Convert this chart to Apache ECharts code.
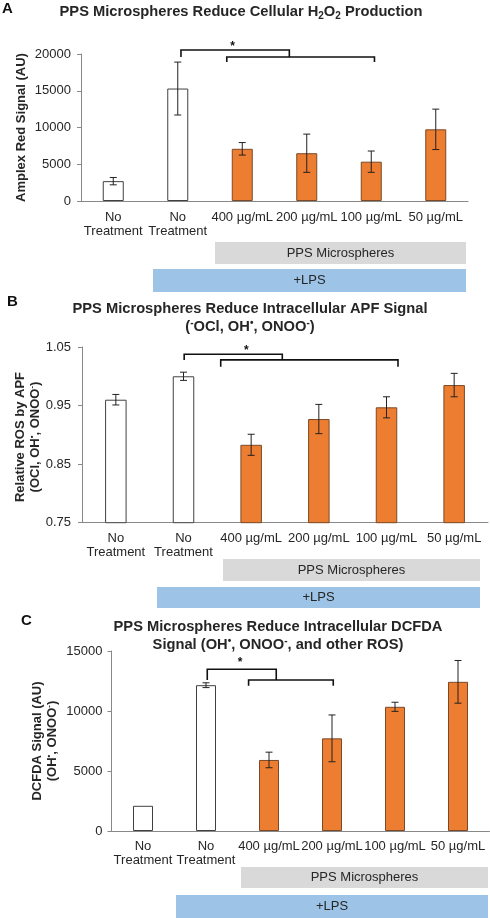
<!DOCTYPE html>
<html><head><meta charset="utf-8">
<script src="https://cdn.jsdelivr.net/npm/echarts@6/dist/echarts.min.js"></script>
<style>html,body{margin:0;padding:0;background:#fff}#c{width:490px;height:918px}</style>
</head><body><div id="c"></div>
<script>
const categories = ['No\nTreatment', 'No\nTreatment', '400 µg/mL', '200 µg/mL', '100 µg/mL', '50 µg/mL'];
const isTreated = [false, false, true, true, true, true];

const amplexMean = [2700, 15300, 7100, 6500, 5350, 9750];
const amplexErr  = [500, 3600, 850, 2600, 1450, 2750];
const amplexTicks = [0, 5000, 10000, 15000, 20000];

const apfMean = [0.960, 1.000, 0.883, 0.927, 0.947, 0.985];
const apfErr  = [0.009, 0.007, 0.018, 0.025, 0.018, 0.020];
const apfTicks = [0.75, 0.85, 0.95, 1.05];

const dcfdaMean = [2100, 12150, 5920, 7720, 10350, 12430];
const dcfdaErr  = [0, 200, 650, 1950, 380, 1780];
const dcfdaTicks = [0, 5000, 10000, 15000];

// significance brackets: [fromCategory, toCategory, topValue, legBottomValue]
const bracketsA = [[1.05, 2.73, 20544, 19590], [1.76, 4.05, 19590, 18910]];
const starA = [1.85, 21000];
const bracketsB = [[1.01, 2.46, 1.0375, 1.028], [1.55, 4.17, 1.028, 1.0164]];
const starB = [1.93, 1.044];
const bracketsC = [[1.02, 2.115, 13475, 12583], [1.676, 3.02, 12583, 12108]];
const starC = [1.54, 14000];

const FONT = 'Liberation Sans, Arial, sans-serif';
const TXT = '#262626';
const ORANGE = '#ED7D31';

const grids = [
  {left: 81, right: 22, top: 54, height: 147},
  {left: 82, right: 2, top: 347, height: 175.7},
  {left: 111.5, right: 0.5, top: 651, height: 180}
];
const barWidths = [21, 21.5, 20];
const yLabelMargins = [10, 11, 9];

function makeYAxis(gi, ticks, fmt) {
  return {
    type: 'value', gridIndex: gi,
    min: ticks[0], max: ticks[ticks.length - 1], interval: ticks[1] - ticks[0],
    axisLine: {show: true, lineStyle: {color: '#888', width: 1}},
    axisTick: {show: true, length: 4, lineStyle: {color: '#888'}},
    splitLine: {show: false},
    axisLabel: {fontFamily: FONT, fontSize: 13, color: TXT, margin: yLabelMargins[gi],
      formatter: fmt || (v => String(Math.round(v)))}
  };
}
function makeXAxis(gi, margin) {
  return {
    type: 'category', gridIndex: gi, data: categories,
    axisLine: {show: true, lineStyle: {color: '#888', width: 1}},
    axisTick: {show: false},
    axisLabel: {interval: 0, fontFamily: FONT, fontSize: 13, color: TXT, lineHeight: 14, margin: margin}
  };
}
function barSeries(gi, means) {
  return {
    type: 'bar', xAxisIndex: gi, yAxisIndex: gi, barWidth: barWidths[gi], z: 2,
    data: means.map((v, i) => ({value: v, itemStyle: isTreated[i]
      ? {color: ORANGE, borderColor: '#7a4a28', borderWidth: 1}
      : {color: '#ffffff', borderColor: '#404040', borderWidth: 1}})),
    silent: true, animation: false
  };
}
function errSeries(gi, means, errs) {
  return {
    type: 'custom', xAxisIndex: gi, yAxisIndex: gi, animation: false, silent: true, z: 10,
    data: means.map((m, i) => [i, m - errs[i], m + errs[i]]),
    renderItem: function (params, api) {
      if (api.value(2) === api.value(1)) return null;
      const lo = api.coord([api.value(0), api.value(1)]);
      const hi = api.coord([api.value(0), api.value(2)]);
      const w = 3.5;
      const st = {stroke: '#222', lineWidth: 1};
      return {type: 'group', children: [
        {type: 'line', shape: {x1: lo[0], y1: lo[1], x2: hi[0], y2: hi[1]}, style: st},
        {type: 'line', shape: {x1: hi[0] - w, y1: hi[1], x2: hi[0] + w, y2: hi[1]}, style: st},
        {type: 'line', shape: {x1: lo[0] - w, y1: lo[1], x2: lo[0] + w, y2: lo[1]}, style: st}
      ]};
    }
  };
}
function catX(api, c) {
  const x0 = api.coord([0, 0])[0], x1 = api.coord([1, 0])[0];
  return x0 + (x1 - x0) * c;
}
function bracketSeries(gi, brackets, star) {
  return {
    type: 'custom', xAxisIndex: gi, yAxisIndex: gi, animation: false, silent: true, clip: false, z: 10,
    data: brackets.map((b, i) => [b[0], b[1], b[2], b[3], i]),
    renderItem: function (params, api) {
      const xa = catX(api, api.value(0)), xb = catX(api, api.value(1));
      const yt = api.coord([0, api.value(2)])[1], yb = api.coord([0, api.value(3)])[1];
      const children = [{type: 'polyline', shape: {points: [[xa, yb], [xa, yt], [xb, yt], [xb, yb]]},
        style: {stroke: '#111', lineWidth: 1.6, fill: null}}];
      if (api.value(4) === 0) {
        const sx = catX(api, star[0]), sy = api.coord([0, star[1]])[1];
        children.push({type: 'text', x: sx, y: sy, style: {text: '*', fontFamily: FONT, fontSize: 12,
          fontWeight: 'bold', fill: '#111', align: 'center', verticalAlign: 'middle'}});
      }
      return {type: 'group', children: children};
    }
  };
}

const titleRich = {
  b: {fontFamily: FONT, fontSize: 14.7, fontWeight: 'bold', fill: TXT, lineHeight: 18},
  s: {fontFamily: FONT, fontSize: 10, fontWeight: 'bold', fill: TXT, lineHeight: 12, verticalAlign: 'bottom'},
  p: {fontFamily: FONT, fontSize: 10, fontWeight: 'bold', fill: TXT, lineHeight: 10, verticalAlign: 'top'}
};
const nameRich = {
  b: {fontFamily: FONT, fontSize: 13, fontWeight: 'bold', fill: TXT, lineHeight: 15},
  p: {fontFamily: FONT, fontSize: 8, fontWeight: 'bold', fill: TXT, lineHeight: 8, verticalAlign: 'top'}
};
function titleText(x, y, text) {
  return {type: 'text', x: x, y: y, style: {text: text, rich: titleRich, align: 'center', verticalAlign: 'top'}, silent: true};
}
function yName(x, y, text) {
  return {type: 'text', x: x, y: y, rotation: Math.PI / 2,
    style: {text: text, rich: nameRich, align: 'center', verticalAlign: 'middle'}, silent: true};
}
function letter(x, y, t) {
  return {type: 'text', x: x, y: y, style: {text: t, fontFamily: FONT, fontSize: 15, fontWeight: 'bold', fill: '#111'}};
}
function box(x1, x2, y1, y2, color, label) {
  return {type: 'group', children: [
    {type: 'rect', shape: {x: x1, y: y1, width: x2 - x1, height: y2 - y1}, style: {fill: color}},
    {type: 'text', x: (x1 + x2) / 2, y: (y1 + y2) / 2, style: {text: label, fontFamily: FONT, fontSize: 13,
      fill: TXT, align: 'center', verticalAlign: 'middle'}}
  ]};
}
const GRAY = '#d9d9d9', BLUE = '#9dc3e6';

const option = {
  animation: false,
  grid: grids,
  xAxis: [makeXAxis(0, 9), makeXAxis(1, 9), makeXAxis(2, 8)],
  yAxis: [
    makeYAxis(0, amplexTicks),
    makeYAxis(1, apfTicks, v => v.toFixed(2)),
    makeYAxis(2, dcfdaTicks)
  ],
  series: [
    barSeries(0, amplexMean), errSeries(0, amplexMean, amplexErr), bracketSeries(0, bracketsA, starA),
    barSeries(1, apfMean), errSeries(1, apfMean, apfErr), bracketSeries(1, bracketsB, starB),
    barSeries(2, dcfdaMean), errSeries(2, dcfdaMean, dcfdaErr), bracketSeries(2, bracketsC, starC)
  ],
  graphic: [
    letter(2, 1, 'A'), letter(7, 294, 'B'), letter(21, 613, 'C'),
    titleText(241, 3, '{b|PPS Microspheres Reduce Cellular H}{s|2}{b|O}{s|2}{b| Production}'),
    titleText(250, 300, '{b|PPS Microspheres Reduce Intracellular APF Signal}\n{b|(}{p|-}{b|OCl, OH}{p|•}{b|, ONOO}{p|-}{b|)}'),
    titleText(278, 618, '{b|PPS Microspheres Reduce Intracellular DCFDA}\n{b|Signal (OH}{p|•}{b|, ONOO}{p|-}{b|, and other ROS)}'),
    yName(21.5, 127.5, '{b|Amplex Red Signal (AU)}'),
    yName(28, 437, '{b|Relative ROS by APF}\n{b|(OCl, OH}{p|•}{b|, ONOO}{p|-}{b|)}'),
    yName(45, 741, '{b|DCFDA Signal (AU)}\n{b|(OH}{p|•}{b|, ONOO}{p|-}{b|)}'),
    box(215, 466, 242, 264, GRAY, 'PPS Microspheres'),
    box(153, 466, 269, 292, BLUE, '+LPS'),
    box(223, 480, 559, 581, GRAY, 'PPS Microspheres'),
    box(157, 480, 587, 608, BLUE, '+LPS'),
    box(241, 488, 867, 888, GRAY, 'PPS Microspheres'),
    box(176, 488, 895, 918, BLUE, '+LPS')
  ]
};
const chart = echarts.init(document.getElementById('c'), null, {renderer: 'canvas'});
chart.setOption(option);
</script></body></html>
